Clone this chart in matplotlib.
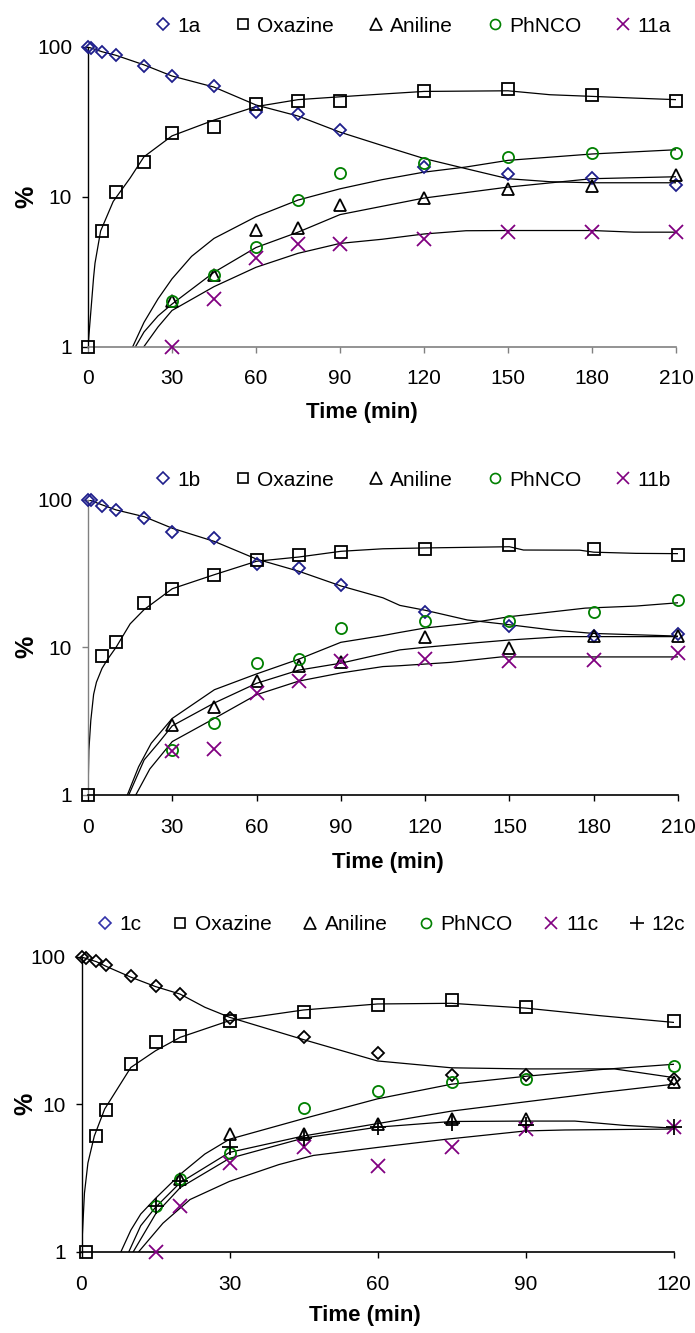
# -*- coding: utf-8 -*-
"""
Kinetic profiles of 1a / 1b / 1c decomposition (log scale), three stacked panels.
"""
# IMPORT STUFF
import numpy as np
import matplotlib
matplotlib.use('Agg')
from matplotlib import pyplot as plt
from matplotlib.lines import Line2D
from matplotlib.ticker import NullLocator
# END IMPORT

plt.rcParams['font.family'] = ['Liberation Sans', 'DejaVu Sans']

# ---------------- panel 1 : 1a ----------------
t1_sm = [0, 1, 5, 10, 20, 30, 45, 60, 75, 90, 120, 150, 180, 210]
sm_1a = [100, 98, 92.7, 88, 75, 64, 55, 37, 35.5, 27.8, 15.9, 14.1, 13.3, 11.9]
t1_ox = [0, 5, 10, 20, 30, 45, 60, 75, 90, 120, 150, 180, 210]
ox_1a = [1, 5.9, 10.8, 17.0, 26.5, 29.2, 41.7, 43.8, 43.4, 51, 52.3, 48, 43.4]
t1_pr = [30, 45, 60, 75, 90, 120, 150, 180, 210]
an_1a = [2.0, 3.0, 6.0, 6.2, 8.8, 9.85, 11.2, 11.8, 13.9]
ph_1a = [2.0, 3.0, 4.6, 9.5, 14.4, 16.8, 18.4, 19.5, 19.6]
x_11a = [1.0, 2.07, 3.9, 4.8, 4.8, 5.2, 5.8, 5.8, 5.8]

# fitted curves
f1_sm_t = [0, 5, 10, 20, 30, 45, 60, 75, 90, 105, 120, 135, 150, 165, 180, 210]
f1_sm = [100, 93, 88, 76, 64, 54, 41, 34.6, 27, 22, 18, 15.4, 13.2, 12.6, 12.4, 12.4]
f1_ox_t = [0, 1, 2, 2.5, 4.5, 9, 15, 20, 30, 45, 60, 75, 90, 105, 120, 150, 165, 180, 195, 210]
f1_ox = [1, 1.7, 2.9, 3.6, 5.9, 9.3, 13.3, 18.5, 25.5, 32.5, 40, 44.5, 46.5, 48.5, 50.5, 51, 48, 46.8, 45.6, 44.5]
f1_ph_t = [16, 20, 25, 30, 37, 45, 60, 75, 90, 105, 120, 135, 150, 180, 210]
f1_ph = [1, 1.45, 2.08, 2.83, 4.0, 5.27, 7.36, 9.5, 11.3, 13, 14.6, 15.8, 17.5, 19.3, 20.6]
f1_an_t = [17, 20, 25, 30, 45, 60, 75, 90, 120, 150, 180, 210]
f1_an = [1, 1.25, 1.6, 1.92, 3.13, 4.58, 5.8, 7.6, 9.8, 11.6, 13.2, 13.6]
f1_11_t = [20, 25, 30, 45, 60, 75, 90, 105, 120, 135, 150, 180, 195, 210]
f1_11 = [1, 1.35, 1.74, 2.51, 3.38, 4.19, 4.88, 5.2, 5.64, 5.93, 5.95, 5.95, 5.8, 5.8]

# ---------------- panel 2 : 1b ----------------
t2_sm = [0, 1, 5, 10, 20, 30, 45, 60, 75, 90, 120, 150, 180, 210]
sm_1b = [100, 99, 90, 84.8, 75.3, 60.7, 55.3, 36.6, 34.4, 26.2, 17.2, 14.0, 11.9, 12.2]
t2_ox = [0, 5, 10, 20, 30, 45, 60, 75, 90, 120, 150, 180, 210]
ox_1b = [1, 8.7, 10.8, 20, 24.6, 30.7, 38.8, 42.3, 43.8, 46.4, 49.4, 46.2, 42.3]
t2_pr = [30, 45, 60, 75, 90, 120, 150, 180, 210]
an_1b = [3.0, 3.94, 5.94, 7.5, 7.9, 11.7, 9.85, 12.0, 12.0]
ph_1b = [2.02, 3.07, 7.8, 8.3, 13.5, 15.1, 15.1, 17.3, 20.9]
x_11b = [1.97, 2.05, 4.9, 5.94, 8.1, 8.3, 8.1, 8.2, 9.2]

f2_sm_t = [0, 5, 10, 20, 30, 45, 60, 75, 90, 105, 111, 120, 135, 150, 165, 180, 210]
f2_sm = [100, 92, 85, 76.5, 63.9, 52, 39.5, 32.7, 26, 21.6, 19.2, 17.8, 15.3, 14.2, 13.1, 12.4, 11.9]
f2_ox_t = [0, 0.3, 1, 2, 3, 5, 7, 10, 15, 20, 30, 45, 60, 75, 90, 105, 120, 150, 155, 175, 180, 195, 210]
f2_ox = [1, 2, 3.2, 4.8, 5.8, 7.2, 8.3, 10, 14.4, 18, 24.9, 31, 38.2, 40.8, 44.6, 46.4, 47, 47.9, 45.5, 45.4, 44, 43.2, 43]
f2_ph_t = [14, 18, 22.5, 30, 45, 60, 75, 90, 105, 111, 120, 135, 150, 177, 195, 210]
f2_ph = [1, 1.55, 2.24, 3.3, 5.16, 6.6, 8.3, 10.8, 12.0, 12.6, 13.5, 14.5, 16.1, 18.4, 19, 20]
f2_an_t = [14.5, 20, 25, 30, 45, 60, 75, 90, 111, 120, 135, 150, 169, 210]
f2_an = [1, 1.73, 2.24, 2.94, 4.2, 5.7, 7.0, 7.8, 9.6, 10.0, 10.6, 11.2, 11.8, 11.8]
f2_11_t = [17, 22, 30, 45, 60, 75, 90, 105, 111, 129, 147, 210]
f2_11 = [1, 1.5, 2.3, 3.3, 4.77, 5.9, 6.7, 7.4, 7.5, 7.9, 8.6, 8.6]

# ---------------- panel 3 : 1c ----------------
t3_sm = [0, 1, 3, 5, 10, 15, 20, 30, 45, 60, 75, 90, 120]
sm_1c = [100, 99, 93.4, 87.8, 74.2, 63.8, 56.2, 38.6, 28.8, 22.2, 15.8, 15.8, 14.8]
t3_ox = [1, 3, 5, 10, 15, 20, 30, 45, 60, 75, 90, 120]
ox_1c = [1, 6.07, 9.2, 18.7, 26.3, 29.2, 36.5, 42.6, 47.3, 50.7, 45.6, 36.6]
t3_an = [20, 30, 45, 60, 75, 90, 120]
an_1c = [3.1, 6.3, 6.3, 7.4, 8.0, 8.0, 14.1]
t3_pr = [15, 20, 30, 45, 60, 75, 90, 120]
ph_1c = [2.05, 3.13, 4.7, 9.5, 12.3, 14.1, 14.9, 18.3]
x_11c = [1.0, 2.05, 4.03, 5.1, 3.82, 5.1, 6.8, 7.0]
p_12c = [2.03, 3.0, 5.1, 5.9, 7.0, 7.5, 7.2, 7.0]

f3_sm_t = [0, 3, 5, 10, 15, 20, 25, 30, 45, 60, 75, 90, 108, 120]
f3_sm = [100, 93, 86.4, 73, 63, 56, 45.6, 39, 27.5, 19.7, 17.7, 17.4, 17.4, 15.2]
f3_ox_t = [0, 0.6, 1.3, 2.6, 4.7, 6, 10, 15, 20, 30, 45, 60, 75, 90, 105, 120]
f3_ox = [1, 2.5, 4.0, 6.1, 9.3, 10.9, 17.8, 23.1, 28.5, 37, 43.7, 48, 48.5, 45, 40, 36]
f3_ph_t = [8, 10, 12, 15, 20, 25, 30, 45, 60, 75, 90, 105, 120]
f3_ph = [1, 1.4, 1.8, 2.3, 3.35, 4.6, 5.8, 8.0, 10.9, 13.7, 15.5, 17.2, 18.7]
f3_an_t = [9.6, 12, 15, 20, 30, 45, 60, 75, 90, 105, 120]
f3_an = [1, 1.5, 2.0, 2.94, 4.72, 6.1, 7.4, 9.0, 10.4, 12.0, 13.7]
f3_12_t = [10.5, 15, 20, 30, 45, 60, 75, 90, 100, 110, 120]
f3_12 = [1, 1.8, 2.72, 4.3, 5.9, 7.0, 7.65, 7.7, 7.7, 7.2, 6.9]
f3_11_t = [11.6, 16.5, 22, 30, 40, 47, 60, 74, 90, 98, 120]
f3_11 = [1, 1.56, 2.26, 3.0, 3.9, 4.5, 5.1, 5.8, 6.6, 6.7, 6.8]

BLUE = '#1f1f8c'
LEGBLUE = '#3333aa'
GREEN = '#008000'
PURPLE = '#800080'
GREY = '#808080'

# marker styles: (marker, size, color)
MK = dict(sm=('D', 6.3, BLUE), ox=('s', 8.0, 'k'), an=('^', 8.8, 'k'),
          ph=('o', 8.0, GREEN), x11=('x', 10.0, PURPLE), p12=('+', 11.0, 'k'))


def pts(ax, t, v, key, color=None):
    m, s, c = MK[key]
    ax.plot(t, v, ls='none', marker=m, ms=s, mfc='none', mec=color or c,
            mew=1.3, clip_on=False, zorder=4)


def style_ax(ax, xmax, **kwargs):
    """ """
    ax.set_yscale('log')
    ax.set_ylim(1, 100)
    ax.set_xlim(0, xmax)
    ax.set_xticks(np.arange(0, xmax + 1, 30))
    ax.set_yticks([1, 10, 100])
    ax.set_yticklabels(['1', '10', '100'])
    ax.yaxis.set_minor_locator(NullLocator())
    ax.spines['top'].set_visible(False)
    ax.spines['right'].set_visible(False)
    ax.spines['left'].set_color(kwargs.get('lcol', 'k'))
    ax.spines['bottom'].set_color(kwargs.get('bcol', 'k'))
    ax.spines['left'].set_linewidth(1.0)
    ax.spines['bottom'].set_linewidth(1.2)
    ax.tick_params(axis='y', direction='out', length=4.5, width=1.0,
                   colors=kwargs.get('lcol', 'k'), labelcolor='k',
                   labelsize=15, pad=7)
    ax.tick_params(axis='x', direction='out', length=4.5, width=1.0,
                   colors=kwargs.get('bcol', 'k'), labelcolor='k',
                   labelsize=15, pad=12)
    ax.set_xlabel('Time (min)', fontsize=16, fontweight='bold')
    ax.xaxis.set_label_coords(kwargs['xl'][0], kwargs['xl'][1])
    ax.xaxis.label.set_va('center')
    ax.set_ylabel('%', fontsize=18, fontweight='bold')
    ax.yaxis.set_label_coords(kwargs.get('yl', -0.104), 0.5)
    ax.yaxis.label.set_va('center')


def fit(ax, t, v):
    ax.plot(t, v, color='k', lw=0.9, zorder=2)


def legend(fig, labels, keys, xy, diamond_col, colsp):
    hs = []
    for k in keys:
        m, s, c = MK[k]
        if k == 'sm':
            c = diamond_col
        hs.append(Line2D([], [], ls='none', marker=m, ms=s * 0.9, mfc='none', mec=c, mew=1.2))
    fig.legend(hs, labels, loc='center', bbox_to_anchor=xy, ncol=len(labels),
               frameon=False, fontsize=15, handlelength=0.7, handletextpad=0.35,
               columnspacing=colsp, borderaxespad=0, borderpad=0)


W, H = 695., 1333.
fig = plt.figure(figsize=(6.95, 13.33), dpi=100)

# panel 1
ax1 = fig.add_axes([88 / W, 1 - 346.5 / H, (676 - 88) / W, (346.5 - 47) / H])
for t, v in [(f1_sm_t, f1_sm), (f1_ox_t, f1_ox), (f1_ph_t, f1_ph), (f1_an_t, f1_an), (f1_11_t, f1_11)]:
    fit(ax1, t, v)
pts(ax1, t1_sm, sm_1a, 'sm')
pts(ax1, t1_ox, ox_1a, 'ox')
pts(ax1, t1_pr, an_1a, 'an')
pts(ax1, t1_pr, ph_1a, 'ph')
pts(ax1, t1_pr, x_11a, 'x11')
style_ax(ax1, 210, bcol=GREY, xl=(0.466, -0.219))
legend(fig, ['1a', 'Oxazine', 'Aniline', 'PhNCO', '11a'], ['sm', 'ox', 'an', 'ph', 'x11'],
       (0.595, 1 - 26 / H), BLUE, 1.65)

# panel 2
ax2 = fig.add_axes([88 / W, 1 - 795 / H, (678 - 88) / W, (795 - 499.5) / H])
for t, v in [(f2_sm_t, f2_sm), (f2_ox_t, f2_ox), (f2_ph_t, f2_ph), (f2_an_t, f2_an), (f2_11_t, f2_11)]:
    fit(ax2, t, v)
pts(ax2, t2_sm, sm_1b, 'sm')
pts(ax2, t2_ox, ox_1b, 'ox')
pts(ax2, t2_pr, an_1b, 'an')
pts(ax2, t2_pr, ph_1b, 'ph')
pts(ax2, t2_pr, x_11b, 'x11')
style_ax(ax2, 210, lcol=GREY, xl=(0.508, -0.230))
legend(fig, ['1b', 'Oxazine', 'Aniline', 'PhNCO', '11b'], ['sm', 'ox', 'an', 'ph', 'x11'],
       (0.595, 1 - 480 / H), BLUE, 1.65)

# panel 3
ax3 = fig.add_axes([81.5 / W, 1 - 1251.7 / H, (673.5 - 81.5) / W, (1251.7 - 957) / H])
for t, v in [(f3_sm_t, f3_sm), (f3_ox_t, f3_ox), (f3_ph_t, f3_ph), (f3_an_t, f3_an),
             (f3_12_t, f3_12), (f3_11_t, f3_11)]:
    fit(ax3, t, v)
pts(ax3, t3_sm, sm_1c, 'sm', color='k')
pts(ax3, t3_ox, ox_1c, 'ox')
pts(ax3, t3_an, an_1c, 'an')
pts(ax3, t3_pr, ph_1c, 'ph')
pts(ax3, t3_pr, x_11c, 'x11')
pts(ax3, t3_pr, p_12c, 'p12')
style_ax(ax3, 120, xl=(0.479, -0.218), yl=-0.095)
legend(fig, ['1c', 'Oxazine', 'Aniline', 'PhNCO', '11c', '12c'],
       ['sm', 'ox', 'an', 'ph', 'x11', 'p12'], (0.563, 1 - 925 / H), LEGBLUE, 1.5)

fig.savefig('out.png', dpi=100)
